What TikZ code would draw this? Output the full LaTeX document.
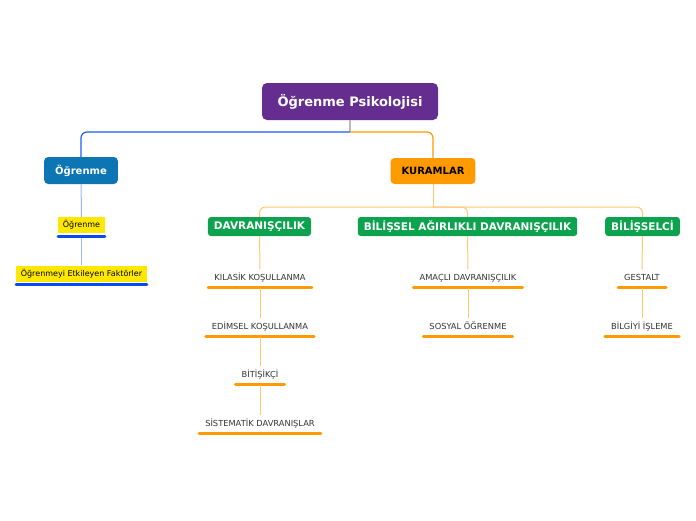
\documentclass[tikz,border=0pt]{standalone}
\usepackage{fontspec}
\setmainfont{DejaVu Sans}
\usepackage{xcolor}

\definecolor{rootpurple}{HTML}{662D91}
\definecolor{ogrblue}{HTML}{0B76B3}
\definecolor{kurorange}{HTML}{FF9A00}
\definecolor{kurgreen}{HTML}{0DA24E}
\definecolor{noteyellow}{HTML}{FFE800}
\definecolor{ulblue}{HTML}{0A4BF0}
\definecolor{linkblue}{HTML}{1A5CFF}
\definecolor{paleblue}{HTML}{9DB5FF}
\definecolor{paleorange}{HTML}{FFC76E}
\definecolor{subgray}{HTML}{333333}

\begin{document}
\begin{tikzpicture}[
  x=1pt, y=-1pt, % pixel-like units, y downwards
  line join=round
]

\tikzstyle{root}=[
  fill=rootpurple, text=white, font=\bfseries\fontsize{13}{15}\selectfont,
  rounded corners=5pt, minimum width=176pt, minimum height=37pt
]
\tikzstyle{main}=[
  text=white, font=\bfseries\fontsize{10}{12}\selectfont,
  rounded corners=4pt, minimum height=27pt, inner xsep=11pt
]
\tikzstyle{theory}=[
  fill=kurgreen, text=white, font=\bfseries\fontsize{10.5}{12}\selectfont,
  rounded corners=3pt, minimum height=19pt, inner xsep=6pt
]
\tikzstyle{note}=[
  fill=noteyellow, text=black, font=\fontsize{8}{10}\selectfont,
  minimum height=16pt, inner xsep=4.5pt,
  append after command={([yshift=-3pt]\tikzlastnode.south west)
    edge[draw=ulblue, line width=3pt, line cap=round]
    ([yshift=-3pt]\tikzlastnode.south east)}
]
\tikzstyle{sub}=[
  text=subgray, font=\fontsize{8.3}{10}\selectfont,
  text height=6.75pt, text depth=3.25pt, inner ysep=4pt, inner xsep=6pt,
  append after command={(\tikzlastnode.south west)
    edge[draw=kurorange, line width=3pt, line cap=round]
    (\tikzlastnode.south east)}
]
\tikzstyle{blueline}=[draw=linkblue, line width=1.2pt, rounded corners=6pt]
\tikzstyle{orangeline}=[draw=kurorange, line width=1.2pt, rounded corners=6pt]
\tikzstyle{paleb}=[draw=paleblue, line width=1pt]
\tikzstyle{paleo}=[draw=paleorange, line width=1pt, rounded corners=6pt]

\useasboundingbox (0,0) rectangle (696,520);

% top levels
\node[root] (root) at (350,101.5) {Öğrenme Psikolojisi};
\node[main, fill=ogrblue] (ogr) at (81,170.5) {Öğrenme};
\node[main, fill=kurorange, text=black, minimum height=26pt] (kur) at (433,171) {KURAMLAR};

% Öğrenme branch
\node[note] (ogr1) at (81.5,225) {Öğrenme};
\node[note] (ogr2) at (81.5,273.5) {Öğrenmeyi Etkileyen Faktörler};

% theories
\node[theory] (dav) at (259.5,226.5) {DAVRANIŞÇILIK};
\node[theory] (bad) at (467.5,226.5) {BİLİŞSEL AĞIRLIKLI DAVRANIŞÇILIK};
\node[theory] (bil) at (642.5,226.5) {BİLİŞSELCİ};

\node[sub] (kls) at (260,278.5) {KILASİK KOŞULLANMA};
\node[sub] (eds) at (260,327.5) {EDİMSEL KOŞULLANMA};
\node[sub] (bit) at (260,375.5) {BİTİŞİKÇİ};
\node[sub] (sis) at (260,424.5) {SİSTEMATİK DAVRANIŞLAR};

\node[sub] (amd) at (468,278.5) {AMAÇLI DAVRANIŞÇILIK};
\node[sub] (sos) at (468,327.5) {SOSYAL ÖĞRENME};

\node[sub] (ges) at (642,278.5) {GESTALT};
\node[sub] (bis) at (642,327.5) {BİLGİYİ İŞLEME};

% forks
\coordinate (rootfork) at (350,132);
\coordinate (kurfork) at (433,207);

\draw[draw=gray!55, line width=1.2pt] (root) -- (rootfork);
\draw[blueline] (rootfork) -| (ogr);
\draw[orangeline] (rootfork) -| (kur);

\path[paleb] (ogr) edge (ogr1);
\draw[paleb] ([yshift=-4.5pt]ogr1.south) -- (ogr2);

\draw[paleo] (kur) -- (kurfork);
\draw[paleo] (kurfork) -| (dav);
\draw[paleo] (kurfork) -| (bad);
\draw[paleo] (kurfork) -| (bil);

\path[paleo] (dav) edge (kls);
\path[paleo] (kls) edge (eds);
\path[paleo] (eds) edge (bit);
\path[paleo] (bit) edge (sis);

\path[paleo] (bad) edge (amd);
\path[paleo] (amd) edge (sos);

\path[paleo] (bil) edge (ges);
\path[paleo] (ges) edge (bis);
\end{tikzpicture}
\end{document}
